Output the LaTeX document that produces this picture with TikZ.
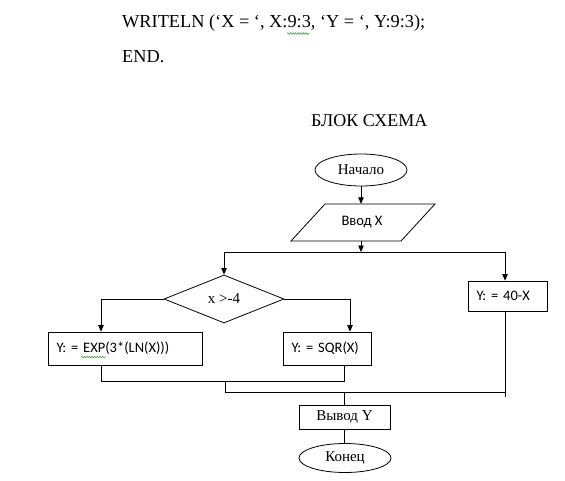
\documentclass[tikz,border=0pt]{standalone}
\usepackage{fontspec}
\setmainfont{Liberation Serif}
\setsansfont{Carlito}
\usetikzlibrary{shapes.geometric,arrows.meta,decorations.pathmorphing}
\begin{document}
\begin{tikzpicture}[x=1pt,y=-1pt,
  line/.style={draw, line width=0.8pt},
  arr/.style={line, -{Triangle[length=6.5pt,width=5.5pt]}},
  serif15/.style={font=\rmfamily\fontsize{15}{18}\selectfont},
  sans14/.style={font=\sffamily\fontsize{14.5}{17}\selectfont},
  term/.style={ellipse, draw, line width=0.8pt, inner sep=0pt, serif15},
  proc/.style={rectangle, draw, line width=0.8pt, inner ysep=0pt, inner xsep=8.5pt, align=left, sans14},
  outbox/.style={rectangle, draw, line width=0.8pt, inner sep=0pt, serif15},
  plain/.style={anchor=base west, inner sep=0pt},
  squig/.style={draw=green!45!black!70, line width=0.6pt, decorate, decoration={snake, amplitude=0.8pt, segment length=2.6pt}}
]
\useasboundingbox (0,0) rectangle (565,480);

% top text
\node[plain, font=\rmfamily\fontsize{18.3}{22}\selectfont] (code1) at (122,27.5) {WRITELN (‘X = ‘, X:9:3, ‘Y = ‘, Y:9:3);};
\node[plain, font=\rmfamily\fontsize{18.3}{22}\selectfont] (code2) at (122,62) {END.};
\draw[squig] (287,33.5) -- (309,33.5);
\node[plain, font=\rmfamily\fontsize{18}{22}\selectfont] (title) at (311,126) {БЛОК СХЕМА};

% start
\node[term, minimum width=92pt, minimum height=32pt] (start) at (361,170) {Начало};

% input parallelogram
\node[inner sep=0pt, minimum width=70pt, minimum height=37pt, sans14] (input) at (362,222.5) {Ввод X};
\draw[line] (325,204) -- (435,204) -- (401,241) -- (291,241) -- cycle;
\draw[arr] (start.south) -- (start.south |- input.north);

\coordinate (split) at (361,252);
\coordinate (sl) at (224,252);
\coordinate (sr) at (505,252);
\draw[arr] (split |- input.south) -- (split);
\draw[line] (sl) -- (sr);

% condition
\node[diamond, draw, line width=0.8pt, aspect=2.5, minimum width=120pt, minimum height=48pt, inner sep=0pt, serif15] (cond) at (224,299) {x >-4};
\draw[arr] (sl) -- (cond.north);

% right process
\node[proc, minimum height=30pt, text width=62pt] (p40) at (507.5,296) {Y: = 40-X};
\draw[arr] (sr) -- (sr |- p40.north);

% left/right branch processes
\node[proc, minimum height=33pt, text width=137pt] (p1) at (125,348.5) {Y: = EXP(3*(LN(X)))};
\draw[squig] (81,357) -- (106,357);
\node[proc, minimum height=33pt, text width=71pt] (p2) at (327,348.5) {Y: = SQR(X)};

\draw[arr] (cond.west) -| ([xshift=-24pt]p1.north);
\draw[arr] (cond.east) -| ([xshift=23pt]p2.north);

% joins
\coordinate (m1) at (225,381);
\coordinate (m2) at (225,392);
\coordinate (m3) at (505,392);
\coordinate (m4) at (505,397);
\draw[line] ([xshift=-24pt]p1.south) |- ([xshift=17pt]p2.south |- m1) -- ([xshift=17pt]p2.south);
\draw[line] (m1) -- (m2) -- (m3);
\draw[line] (sr |- p40.south) -- (m4);

% output
\node[outbox, minimum width=91pt, minimum height=24pt] (out) at (344.5,417.5) {Вывод Y};
\draw[line] (m2 -| out.north) -- (out.north);

% end
\node[term, minimum width=92pt, minimum height=29pt] (end) at (345,458) {Конец};
\draw[line] (out.south) -- (out.south |- end.north);
\end{tikzpicture}
\end{document}
